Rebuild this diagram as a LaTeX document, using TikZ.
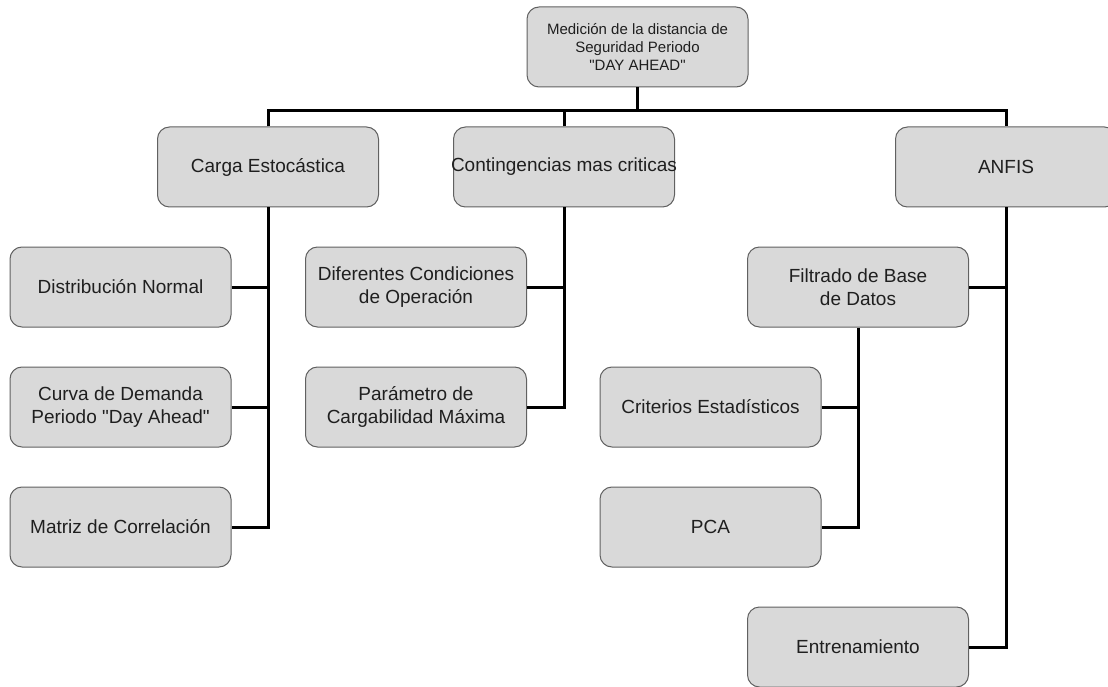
\documentclass[tikz,border=0pt]{standalone}
\usepackage{fontspec}
\setmainfont{Liberation Sans}[Ligatures=TeXOff]
\begin{document}
\begin{tikzpicture}[x=1pt,y=-1pt,
  box/.style={draw=black!62, fill=black!15, line width=1pt, rounded corners=12pt,
    minimum width=221pt, minimum height=80pt, inner sep=0pt, align=center,
    text=black!88, font=\fontsize{19}{23}\selectfont},
  rootbox/.style={box, font=\fontsize{15}{18}\selectfont},
  conn/.style={line width=3pt, draw=black, line join=miter}]
\useasboundingbox (0,0) rectangle (1108,687);
\clip (0,0) rectangle (1108,687);

% root
\node[rootbox] (root) at (637.5,47) {Medición de la distancia de\\Seguridad Periodo\\"DAY AHEAD"};

% first level
\node[box] (carga)  at (268,167)  {Carga Estocástica};
\node[box] (conting) at (564,167) {\makebox[221pt][c]{Contingencias mas criticas}};
\node[box] (anfis)  at (1006,167) {ANFIS};

% branch of Carga Estocástica
\node[box] (normal) at (120.5,287) {Distribución Normal};
\node[box] (curva)  at (120.5,407) {Curva de Demanda\\Periodo "Day Ahead"};
\node[box] (matriz) at (120.5,527) {Matriz de Correlación};

% branch of Contingencias
\node[box] (condic) at (416,287) {Diferentes Condiciones\\de Operación};
\node[box] (param)  at (416,407) {Parámetro de\\Cargabilidad Máxima};

% branch of ANFIS
\node[box] (filtro) at (858,287)   {Filtrado de Base\\de Datos};
\node[box] (crit)   at (710.5,407) {Criterios Estadísticos};
\node[box] (pca)    at (710.5,527) {PCA};
\node[box] (entren) at (858,647)   {Entrenamiento};

% connectors
\coordinate (bus) at (637.5,111);
\draw[conn] (root.south) -- (bus);
\draw[conn] (carga.north) |- (bus) -| (anfis.north);
\draw[conn] (conting.north) -- (conting.north |- bus);

\draw[conn] (carga.south) |- (matriz.east);
\draw[conn] (normal.east) -- (normal.east -| carga.south);
\draw[conn] (curva.east) -- (curva.east -| carga.south);

\draw[conn] (conting.south) |- (param.east);
\draw[conn] (condic.east) -- (condic.east -| conting.south);

\draw[conn] (anfis.south) |- (entren.east);
\draw[conn] (filtro.east) -- (filtro.east -| anfis.south);
\draw[conn] (filtro.south) |- (pca.east);
\draw[conn] (crit.east) -- (crit.east -| filtro.south);
\end{tikzpicture}
\end{document}
